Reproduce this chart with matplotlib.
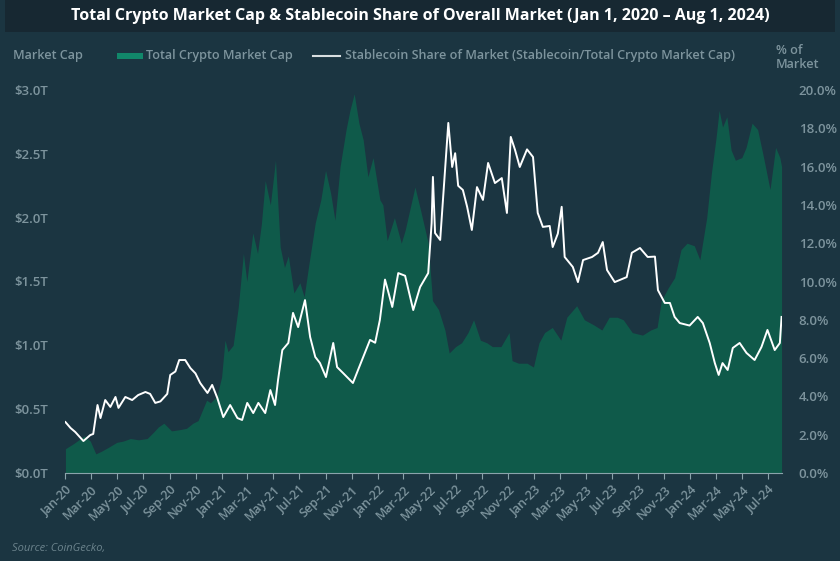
import matplotlib
matplotlib.use("Agg")
import matplotlib.pyplot as plt
from matplotlib.patches import Rectangle
from matplotlib.lines import Line2D
import pandas as pd

# Total crypto market cap (trillions USD)
cap_dates = [
    "2020-01-01", "2020-01-20", "2020-02-14", "2020-02-28", "2020-03-12", "2020-03-25",
    "2020-04-10", "2020-04-30", "2020-05-15", "2020-06-01", "2020-06-20", "2020-07-10",
    "2020-07-25", "2020-08-05", "2020-08-18", "2020-09-05", "2020-09-25", "2020-10-10",
    "2020-10-25", "2020-11-06", "2020-11-26", "2020-12-05", "2020-12-20", "2020-12-31",
    "2021-01-08", "2021-01-15", "2021-01-27", "2021-02-08", "2021-02-20", "2021-02-28",
    "2021-03-14", "2021-03-25", "2021-04-03", "2021-04-12", "2021-04-24", "2021-05-06",
    "2021-05-17", "2021-05-27", "2021-06-05", "2021-06-18", "2021-07-02", "2021-07-12",
    "2021-07-22", "2021-08-07", "2021-08-20", "2021-08-31", "2021-09-12", "2021-09-22",
    "2021-10-04", "2021-10-18", "2021-10-27", "2021-11-06", "2021-11-17", "2021-11-27",
    "2021-12-08", "2021-12-20", "2022-01-05", "2022-01-12", "2022-01-22", "2022-02-08",
    "2022-02-24", "2022-03-05", "2022-03-28", "2022-04-10", "2022-04-28", "2022-05-08",
    "2022-05-22", "2022-06-06", "2022-06-16", "2022-07-01", "2022-07-15", "2022-07-30",
    "2022-08-12", "2022-08-28", "2022-09-12", "2022-09-25", "2022-10-15", "2022-11-03",
    "2022-11-10", "2022-11-25", "2022-12-15", "2022-12-30", "2023-01-12", "2023-01-25",
    "2023-02-12", "2023-03-04", "2023-03-18", "2023-04-10", "2023-04-28", "2023-05-20",
    "2023-06-08", "2023-06-25", "2023-07-14", "2023-07-28", "2023-08-18", "2023-09-11",
    "2023-09-30", "2023-10-15", "2023-10-25", "2023-11-10", "2023-11-25", "2023-12-10",
    "2023-12-24", "2024-01-10", "2024-01-23", "2024-02-08", "2024-02-19", "2024-03-01",
    "2024-03-08", "2024-03-16", "2024-03-26", "2024-04-05", "2024-04-15", "2024-04-30",
    "2024-05-10", "2024-05-24", "2024-06-06", "2024-06-20", "2024-07-05", "2024-07-18",
    "2024-07-28", "2024-08-01",
]
cap_values = [
    0.19, 0.23, 0.29, 0.25, 0.15, 0.17,
    0.20, 0.24, 0.25, 0.27, 0.26, 0.27,
    0.32, 0.36, 0.39, 0.33, 0.34, 0.35,
    0.39, 0.41, 0.57, 0.55, 0.60, 0.75,
    1.04, 0.95, 1.00, 1.30, 1.72, 1.50,
    1.88, 1.72, 1.95, 2.29, 2.10, 2.45,
    1.77, 1.61, 1.70, 1.41, 1.49, 1.38,
    1.61, 1.96, 2.14, 2.37, 2.19, 1.98,
    2.40, 2.69, 2.84, 2.97, 2.74, 2.61,
    2.32, 2.47, 2.14, 2.10, 1.82, 2.00,
    1.80, 1.90, 2.24, 2.06, 1.80, 1.35,
    1.28, 1.12, 0.94, 0.99, 1.02, 1.10,
    1.20, 1.04, 1.02, 0.99, 0.99, 1.10,
    0.88, 0.86, 0.86, 0.83, 1.02, 1.10,
    1.14, 1.04, 1.22, 1.31, 1.20, 1.16,
    1.12, 1.22, 1.22, 1.20, 1.10, 1.08,
    1.12, 1.14, 1.35, 1.45, 1.53, 1.75,
    1.80, 1.78, 1.67, 2.00, 2.35, 2.63,
    2.84, 2.71, 2.79, 2.53, 2.45, 2.47,
    2.55, 2.74, 2.69, 2.47, 2.22, 2.55,
    2.47, 2.40,
]

# Stablecoin share of total market cap (%)
share_dates = [
    "2020-01-01", "2020-01-13", "2020-01-24", "2020-02-12", "2020-02-28", "2020-03-06",
    "2020-03-16", "2020-03-23", "2020-04-03", "2020-04-15", "2020-04-27", "2020-05-04",
    "2020-05-20", "2020-06-05", "2020-06-19", "2020-07-06", "2020-07-17", "2020-07-29",
    "2020-08-10", "2020-08-26", "2020-09-02", "2020-09-14", "2020-09-23", "2020-10-07",
    "2020-10-19", "2020-10-31", "2020-11-11", "2020-11-28", "2020-12-09", "2020-12-21",
    "2021-01-04", "2021-01-20", "2021-02-06", "2021-02-17", "2021-03-01", "2021-03-15",
    "2021-03-27", "2021-04-12", "2021-04-24", "2021-05-05", "2021-05-12", "2021-05-22",
    "2021-06-05", "2021-06-16", "2021-06-28", "2021-07-14", "2021-07-26", "2021-08-07",
    "2021-08-18", "2021-09-01", "2021-09-18", "2021-09-27", "2021-10-11", "2021-11-03",
    "2021-11-15", "2021-12-01", "2021-12-13", "2021-12-25", "2022-01-05", "2022-01-17",
    "2022-02-03", "2022-02-17", "2022-03-05", "2022-03-24", "2022-04-09", "2022-04-28",
    "2022-05-06", "2022-05-09", "2022-05-14", "2022-05-26", "2022-06-06", "2022-06-14",
    "2022-06-23", "2022-06-30", "2022-07-07", "2022-07-18", "2022-07-28", "2022-08-08",
    "2022-08-20", "2022-09-03", "2022-09-15", "2022-10-01", "2022-10-17", "2022-10-29",
    "2022-11-07", "2022-11-17", "2022-11-28", "2022-12-15", "2022-12-29", "2023-01-09",
    "2023-01-21", "2023-02-06", "2023-02-13", "2023-02-25", "2023-03-06", "2023-03-13",
    "2023-04-01", "2023-04-13", "2023-04-25", "2023-05-16", "2023-05-30", "2023-06-10",
    "2023-06-20", "2023-07-08", "2023-08-05", "2023-08-17", "2023-09-05", "2023-09-23",
    "2023-10-10", "2023-10-17", "2023-11-02", "2023-11-14", "2023-11-25", "2023-12-07",
    "2023-12-30", "2024-01-18", "2024-01-30", "2024-02-15", "2024-02-27", "2024-03-07",
    "2024-03-16", "2024-03-28", "2024-04-09", "2024-04-25", "2024-05-11", "2024-05-30",
    "2024-06-15", "2024-06-29", "2024-07-16", "2024-07-28", "2024-08-01",
]
share_values = [
    2.66, 2.35, 2.14, 1.67, 1.98, 2.04,
    3.55, 2.87, 3.81, 3.45, 3.97, 3.40,
    3.97, 3.81, 4.07, 4.23, 4.13, 3.66,
    3.74, 4.13, 5.12, 5.30, 5.90, 5.90,
    5.48, 5.20, 4.70, 4.18, 4.60, 3.92,
    2.92, 3.55, 2.87, 2.77, 3.66, 3.13,
    3.66, 3.13, 4.33, 3.55, 4.86, 6.42,
    6.79, 8.36, 7.62, 9.03, 7.10, 6.06,
    5.74, 5.01, 6.79, 5.53, 5.22, 4.70,
    5.38, 6.27, 6.95, 6.80, 7.99, 10.10,
    8.67, 10.44, 10.30, 8.51, 9.71, 10.44,
    13.05, 15.46, 12.53, 12.17, 15.67, 18.28,
    15.98, 16.70, 15.00, 14.78, 13.90, 12.69,
    14.93, 14.26, 16.19, 15.14, 15.40, 13.58,
    17.55, 16.87, 15.98, 16.90, 16.50, 13.58,
    12.85, 12.90, 11.80, 12.50, 13.90, 11.28,
    10.76, 9.97, 11.12, 11.28, 11.50, 12.06,
    10.60, 9.97, 10.23, 11.50, 11.75, 11.28,
    11.30, 9.55, 8.88, 8.88, 8.15, 7.83,
    7.70, 8.15, 7.83, 6.79, 5.74, 5.12,
    5.74, 5.38, 6.53, 6.79, 6.27, 5.90,
    6.58, 7.47, 6.42, 6.79, 8.15,
]

BG = "#1b3541"
BAND = "#172832"
GREEN = "#0f5a4a"
GREEN_LEG = "#11876a"
TXT = "#7d949d"

cap_x = pd.to_datetime(cap_dates)
share_x = pd.to_datetime(share_dates)

plt.rcParams["font.family"] = ["Open Sans", "DejaVu Sans"]
fig = plt.figure(figsize=(8.4, 5.61), dpi=100, facecolor=BG)

# title band
fig.patches.append(Rectangle((0.006, 1 - 32 / 561), 0.988, 32 / 561,
                             transform=fig.transFigure, facecolor=BAND, edgecolor="none"))
fig.text(0.5, 1 - 16 / 561,
         "Total Crypto Market Cap & Stablecoin Share of Overall Market (Jan 1, 2020 \u2013 Aug 1, 2024)",
         ha="center", va="center", color="white", fontsize=11.5, fontweight="bold")

ax = fig.add_axes([65 / 840, 1 - 473 / 561, (782 - 65) / 840, (473 - 90) / 561])
ax.set_facecolor(BG)
ax.fill_between(cap_x, cap_values, 0, color=GREEN, linewidth=0)
ax.set_ylim(0, 3.0)
ax.set_xlim(pd.Timestamp("2019-12-31"), pd.Timestamp("2024-08-02"))
ax.set_yticks([0, 0.5, 1.0, 1.5, 2.0, 2.5, 3.0])
ax.set_yticklabels([f"${v:.1f}T" for v in [0, 0.5, 1.0, 1.5, 2.0, 2.5, 3.0]])

ax2 = ax.twinx()
ax2.plot(share_x, share_values, color="white", linewidth=1.4)
ax2.set_ylim(0, 20)
ax2.set_yticks(range(0, 21, 2))
ax2.set_yticklabels([f"{v:.1f}%" for v in range(0, 21, 2)])

xt = pd.date_range("2020-01-01", "2024-07-01", freq="2MS")
ax.set_xticks(xt)
ax.set_xticklabels([d.strftime("%b-%y") for d in xt], rotation=45, ha="right",
                   rotation_mode="anchor")

for a in (ax, ax2):
    for s in a.spines.values():
        s.set_visible(False)
    a.tick_params(axis="y", length=0, colors=TXT, labelsize=9.5)
ax.tick_params(axis="y", pad=12)
ax2.tick_params(axis="y", pad=12)
ax.spines["bottom"].set_visible(True)
ax.spines["bottom"].set_color("#8aa3ab")
ax.tick_params(axis="x", length=4, color="#8aa3ab", colors=TXT, labelsize=9, pad=3)
for lbl in ax.get_xticklabels() + ax.get_yticklabels() + ax2.get_yticklabels():
    lbl.set_fontweight("semibold")

# legend row
LEG_FS = 9.1
fig.text(13 / 840, 1 - 56 / 561, "Market Cap", color=TXT, fontsize=LEG_FS,
         fontweight="semibold", va="center")
fig.patches.append(Rectangle((117 / 840, 1 - 59 / 561), 26 / 840, 6 / 561,
                             transform=fig.transFigure, facecolor=GREEN_LEG, edgecolor="none"))
fig.text(146 / 840, 1 - 56 / 561, "Total Crypto Market Cap", color=TXT, fontsize=LEG_FS,
         fontweight="semibold", va="center")
fig.lines.append(Line2D([313 / 840, 340 / 840], [1 - 56 / 561] * 2, color="#d8dee0",
                        linewidth=1.5, transform=fig.transFigure))
fig.text(345 / 840, 1 - 56 / 561,
         "Stablecoin Share of Market (Stablecoin/Total Crypto Market Cap)",
         color=TXT, fontsize=LEG_FS, fontweight="semibold", va="center")
fig.text(776 / 840, 1 - 58 / 561, "% of\nMarket", color=TXT, fontsize=LEG_FS,
         fontweight="semibold", va="center", linespacing=1.1)

fig.text(12 / 840, 1 - 548 / 561, "Source: CoinGecko,", color="#6b838c", fontsize=8,
         style="italic", va="center")

fig.savefig("out.png", dpi=100, facecolor=BG)
